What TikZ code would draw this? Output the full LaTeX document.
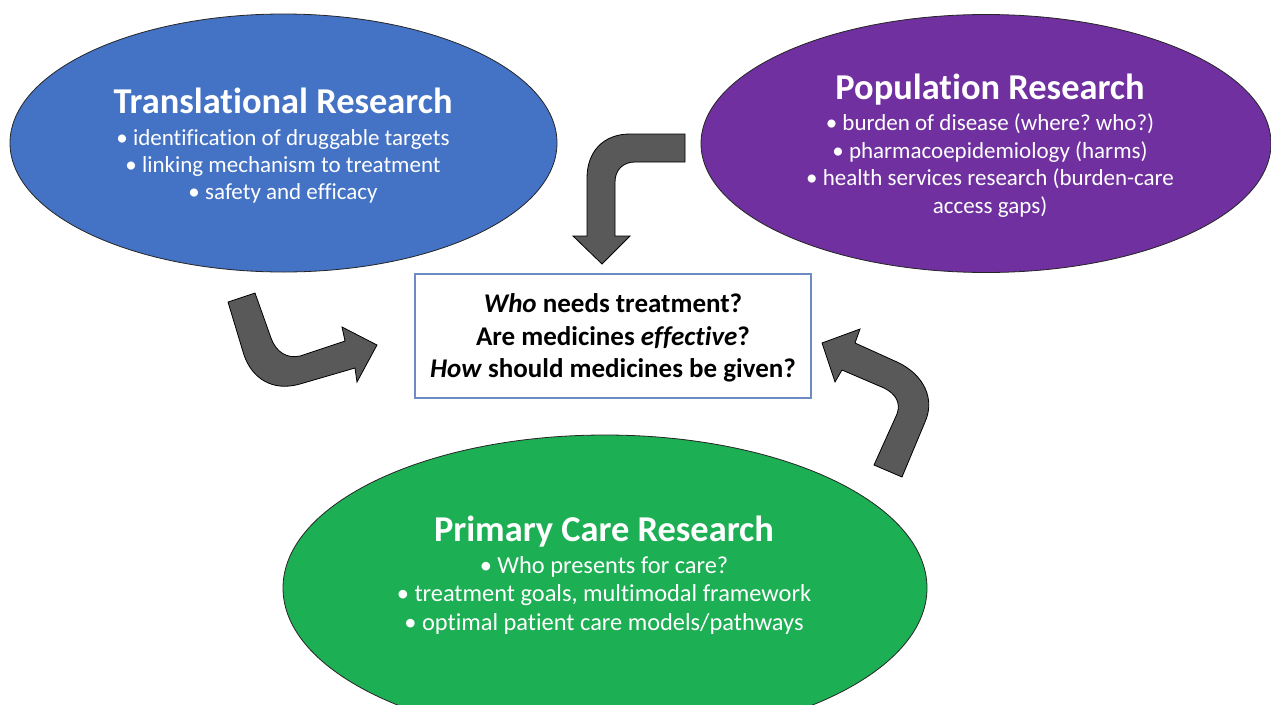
\documentclass[tikz,border=0pt]{standalone}
\usepackage{fontspec}
\setmainfont{Carlito}[Ligatures=NoCommon]
\usetikzlibrary{shapes.geometric}
\definecolor{transblue}{RGB}{68,114,196}
\definecolor{poppurple}{RGB}{112,48,160}
\definecolor{pcgreen}{RGB}{29,175,84}
\definecolor{arrowgray}{RGB}{89,89,89}
\definecolor{boxline}{RGB}{110,140,195}
\tikzset{
  blob/.style={ellipse, draw=black!85, line width=0.8pt, inner sep=0pt},
  ttl/.style={text=white, font=\fontsize{36.4}{43}\selectfont\bfseries, anchor=base, inner sep=0pt},
  bul/.style={text=white, font=\fontsize{23}{27}\selectfont, anchor=base, inner sep=0pt},
  bulg/.style={text=white, font=\fontsize{24.4}{29}\selectfont, anchor=base, inner sep=0pt},
  qline/.style={text=black, font=\fontsize{27}{33}\selectfont\bfseries, anchor=base, inner sep=0pt},
  bentarrow/.style={fill=arrowgray, draw=black, line width=0.8pt, line join=miter},
}
\frenchspacing
\begin{document}
\begin{tikzpicture}[x=1pt,y=-1pt]
\useasboundingbox (0,0) rectangle (1271,704);
\clip (0,0) rectangle (1271,704);
\fill[white] (0,0) rectangle (1271,704);

% ellipses
\node[blob, fill=transblue, minimum width=547pt, minimum height=258pt] (trans) at (283.5,143) {};
\node[blob, fill=poppurple, minimum width=570pt, minimum height=258pt] (pop) at (986,143.5) {};
\node[blob, fill=pcgreen, minimum width=644pt, minimum height=306pt] (pc) at (605,588) {};

% Translational
\node[ttl] (transT) at (283,113) {Translational Research};
\node[bul] (transA) at (283,145) {• identification of druggable targets};
\node[bul] (transB) at (283,172) {• linking mechanism to treatment};
\node[bul] (transC) at (283,199) {• safety and efficacy};

% Population
\node[ttl] (popT) at (990,99) {Population Research};
\node[bul] (popA) at (990,130) {• burden of disease (where? who?)};
\node[bul] (popB) at (990,158) {• pharmacoepidemiology (harms)};
\node[bul] (popC) at (990,185.5) {• health services research (burden-care};
\node[bul] (popD) at (990,213) {access gaps)};

% Primary care
\node[ttl] (pcT) at (604,541) {Primary Care Research};
\node[bulg] (pcA) at (604,573) {• Who presents for care?};
\node[bulg] (pcB) at (604,601.5) {• treatment goals, multimodal framework};
\node[bulg] (pcC) at (604,630) {• optimal patient care models/pathways};

% central box
\node[draw=boxline, line width=1.2pt, fill=white, minimum width=396pt, minimum height=124pt, inner sep=0pt] (q) at (613,336) {};
\node[qline] (q1) at (613,312) {\textit{Who} needs treatment?};
\node[qline] (q2) at (613,345) {Are medicines \textit{effective}?};
\node[qline] (q3) at (613,377.5) {\textit{How} should medicines be given?};

% bent arrows
\path[bentarrow] (228,302) -- (255,293) -- (271,338)
  .. controls (276,352) and (287,359) .. (300,356) -- (345,341) -- (342,327)
  -- (377,345) -- (357,382) -- (355,368) -- (300,384)
  .. controls (272,392) and (252,378) .. (244,355) -- cycle;

\path[bentarrow] (685,134) -- (630,134)
  .. controls (603,134) and (587,152) .. (587,178) -- (587,236) -- (573,236)
  -- (602,264) -- (630,236) -- (615,236) -- (615,182)
  .. controls (615,170) and (623,162) .. (635,162) -- (685,162) -- cycle;

\path[bentarrow] (822,343) -- (860,329) -- (855,343) -- (897,362)
  .. controls (925,375) and (935,400) .. (925,422) -- (902,477) -- (874,465)
  -- (897,414) .. controls (901,403) and (896,394) .. (884,388) -- (842,370)
  -- (835,382) -- cycle;
\end{tikzpicture}
\end{document}
